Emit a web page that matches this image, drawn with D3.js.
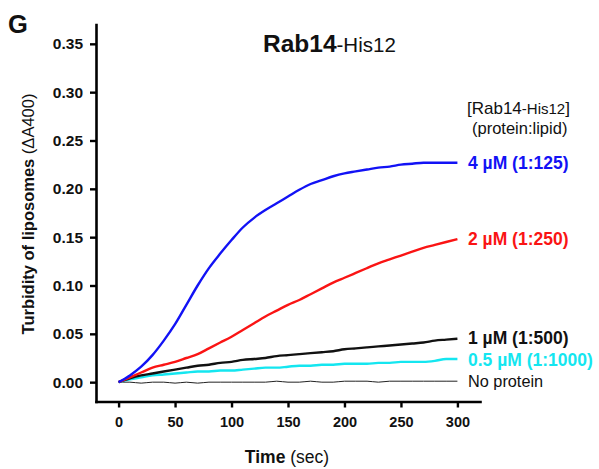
<!DOCTYPE html>
<html>
<head>
<meta charset="utf-8">
<script src="https://cdn.jsdelivr.net/npm/d3@7"></script>
<style>
  body { margin: 0; background: #fff; }
  svg { display: block; font-family: Arial, "Liberation Sans", sans-serif; }
</style>
</head>
<body>
<svg id="chart" width="599" height="469"></svg>
<script>
const times = d3.range(0, 301, 10);

const blue4uM = [0, 0.007, 0.016, 0.028, 0.043, 0.060, 0.080, 0.100, 0.118, 0.133, 0.147,
  0.160, 0.170, 0.178, 0.185, 0.192, 0.199, 0.205, 0.209, 0.213, 0.216,
  0.218, 0.220, 0.222, 0.223, 0.225, 0.226, 0.227, 0.227, 0.227, 0.227];
const red2uM = [0, 0.005, 0.010, 0.015, 0.018, 0.021, 0.025, 0.029, 0.035, 0.041, 0.047,
  0.054, 0.061, 0.068, 0.074, 0.080, 0.085, 0.091, 0.097, 0.103, 0.108,
  0.113, 0.118, 0.123, 0.127, 0.131, 0.135, 0.139, 0.142, 0.145, 0.148];
const black1uM = [0, 0.004, 0.007, 0.009, 0.011, 0.013, 0.015, 0.017, 0.018, 0.020, 0.021,
  0.023, 0.024, 0.025, 0.027, 0.028, 0.029, 0.030, 0.031, 0.032, 0.034,
  0.035, 0.036, 0.037, 0.038, 0.039, 0.040, 0.041, 0.043, 0.044, 0.045];
const cyan05uM = [0, 0.003, 0.005, 0.007, 0.008, 0.009, 0.010, 0.011, 0.011, 0.012, 0.012,
  0.013, 0.014, 0.015, 0.015, 0.016, 0.017, 0.017, 0.018, 0.018, 0.019,
  0.019, 0.019, 0.020, 0.020, 0.021, 0.021, 0.021, 0.022, 0.024, 0.024];
const noProtein = [0, 0, -0.001, 0, 0, -0.001, 0, -0.001, 0, 0, 0,
  0, 0, 0, 0.001, 0, 0, 0.001, 0, 0, 0.001,
  0.001, 0.001, 0, 0.001, 0.001, 0.001, 0.001, 0.001, 0.001, 0.001];

const series = [
  { values: blue4uM, color: "#1212f5", width: 2.4, label: "4 \u00b5M (1:125)", bold: true },
  { values: red2uM, color: "#fa1414", width: 2.4, label: "2 \u00b5M (1:250)", bold: true },
  { values: black1uM, color: "#111111", width: 2.4, label: "1 \u00b5M (1:500)", bold: true },
  { values: cyan05uM, color: "#14e6f0", width: 2.4, label: "0.5 \u00b5M (1:1000)", bold: true },
  { values: noProtein, color: "#222222", width: 1, label: "No protein", bold: false },
];

const xTicks = [0, 50, 100, 150, 200, 250, 300];
const yTicks = [0, 0.05, 0.10, 0.15, 0.20, 0.25, 0.30, 0.35];

const svg = d3.select("#chart");
const x = d3.scaleLinear().domain([-20, 320]).range([96, 480]);
const y = d3.scaleLinear().domain([-0.02, 0.37]).range([401.5, 24.5]);

const yAxis = svg.append("g")
  .attr("transform", `translate(${x(-20)},0)`)
  .call(d3.axisLeft(y).tickValues(yTicks).tickFormat(d3.format(".2f")).tickSize(6).tickSizeOuter(0).tickPadding(7));
const xAxis = svg.append("g")
  .attr("transform", `translate(0,${y(-0.02)})`)
  .call(d3.axisBottom(x).tickValues(xTicks).tickSize(6).tickSizeOuter(0).tickPadding(9));

[yAxis, xAxis].forEach((g) => {
  g.select(".domain").attr("stroke", "#000").attr("stroke-width", 2.6).attr("stroke-linecap", "square");
  g.selectAll(".tick line").attr("stroke", "#000").attr("stroke-width", 2.4);
  g.selectAll(".tick text")
    .attr("font-size", 14.5).attr("font-weight", "bold").attr("fill", "#111")
    .attr("font-family", "Arial, 'Liberation Sans', sans-serif");
});
// y tick labels are drawn a bit wider than the x ones
yAxis.selectAll(".tick text").attr("font-size", 15.5);

const line = d3.line()
  .x((d, i) => x(times[i]))
  .y((d) => y(d))
  .curve(d3.curveMonotoneX);

series.slice().reverse().forEach((s) => {
  svg.append("path")
    .attr("d", line(s.values))
    .attr("fill", "none")
    .attr("stroke", s.color)
    .attr("stroke-width", s.width)
    .attr("stroke-linejoin", "round");
});

// end labels
const labelNudge = [0, 0, -1, 1, 0];
series.forEach((s, i) => {
  const last = s.values[s.values.length - 1];
  svg.append("text")
    .attr("x", 468)
    .attr("y", y(last) + labelNudge[i])
    .attr("dy", "0.36em")
    .attr("fill", s.bold ? s.color : "#111")
    .attr("font-size", s.bold ? 17.5 : 16.3)
    .attr("font-weight", s.bold ? "bold" : "normal")
    .text(s.label);
});

// legend header
const h1 = svg.append("text").attr("x", 467).attr("y", 114).attr("font-size", 17).attr("fill", "#111");
h1.append("tspan").text("[Rab14");
h1.append("tspan").attr("font-size", 15).text("-His12");
h1.append("tspan").text("]");
svg.append("text").attr("x", 472).attr("y", 134).attr("font-size", 16.5).attr("fill", "#111").text("(protein:lipid)");

// title
const title = svg.append("text").attr("x", 263).attr("y", 52).attr("fill", "#111");
title.append("tspan").attr("font-size", 24.5).attr("font-weight", "bold").text("Rab14");
title.append("tspan").attr("font-size", 20.5).text("-His12");

// panel letter
svg.append("text").attr("x", 8).attr("y", 33).attr("font-size", 25.5).attr("font-weight", "bold")
  .attr("fill", "#111").text("G");

// axis titles
const xt = svg.append("text").attr("x", 287).attr("y", 463).attr("text-anchor", "middle")
  .attr("font-size", 17.5).attr("fill", "#111");
xt.append("tspan").attr("font-weight", "bold").text("Time ");
xt.append("tspan").text("(sec)");

const yt = svg.append("text")
  .attr("transform", `translate(34,${214}) rotate(-90)`)
  .attr("text-anchor", "middle")
  .attr("font-size", 16.5).attr("fill", "#111");
yt.append("tspan").attr("font-weight", "bold").text("Turbidity of liposomes ");
yt.append("tspan").text("(\u0394A400)");
</script>
</body>
</html>
